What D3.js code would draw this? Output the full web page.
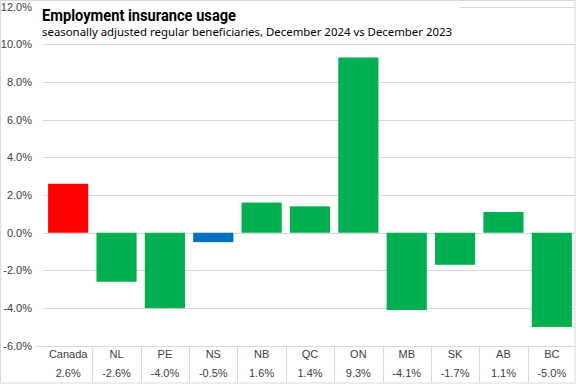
<!DOCTYPE html>
<html>
<head>
<meta charset="utf-8">
<script src="https://cdn.jsdelivr.net/npm/d3@7"></script>
<style>
  body { margin: 0; background: #fff; }
  svg { display: block; }
</style>
</head>
<body>
<svg id="chart" width="576" height="384"></svg>
<script>
const categories = ['Canada', 'NL', 'PE', 'NS', 'NB', 'QC', 'ON', 'MB', 'SK', 'AB', 'BC']
const values = [2.6, -2.6, -4.0, -0.5, 1.6, 1.4, 9.3, -4.1, -1.7, 1.1, -5.0]
const barColors = ['#ff0000', '#00b050', '#00b050', '#0070c0', '#00b050', '#00b050', '#00b050', '#00b050', '#00b050', '#00b050', '#00b050']
const yTicks = [-6, -4, -2, 0, 2, 4, 6, 8, 10, 12]

const svg = d3.select('#chart')
const W = 576
const H = 384

const x = d3.scaleBand().domain(categories).range([44, 576]).paddingInner(0.17).paddingOuter(0.085)
const y = d3.scaleLinear().domain([-6, 12]).range([345.8, 6.6])

// outer frame
svg.append('rect')
  .attr('x', 0.5).attr('y', 0.5)
  .attr('width', W - 1.5).attr('height', H - 1.5)
  .attr('fill', 'none')
  .attr('stroke', '#d9d9d9')

// grid
const grid = svg.append('g')
grid.selectAll('line')
  .data(yTicks)
  .enter()
  .append('line')
  .attr('x1', d => (d === -6 ? 36 : 43))
  .attr('x2', 575)
  .attr('y1', d => Math.round(y(d)) + 0.5)
  .attr('y2', d => Math.round(y(d)) + 0.5)
  .attr('stroke', '#d9d9d9')

// y tick labels
svg.append('g')
  .selectAll('text')
  .data(yTicks)
  .enter()
  .append('text')
  .attr('x', 32)
  .attr('y', d => y(d) + 4)
  .attr('text-anchor', 'end')
  .attr('font-family', 'Liberation Sans, Arial, sans-serif')
  .attr('font-size', '11px')
  .attr('fill', '#404040')
  .text(d => `${d.toFixed(1)}%`)

// bars
svg.append('g')
  .selectAll('rect')
  .data(categories)
  .enter()
  .append('rect')
  .attr('x', d => x(d))
  .attr('width', x.bandwidth())
  .attr('y', (d, i) => y(Math.max(0, values[i])))
  .attr('height', (d, i) => Math.abs(y(values[i]) - y(0)))
  .attr('fill', (d, i) => barColors[i])

// data table under the axis
const step = x.step()
const bandStart = d => x(d) - (step - x.bandwidth()) / 2
const table = svg.append('g')
table.selectAll('line')
  .data(categories.slice(1))
  .enter()
  .append('line')
  .attr('x1', d => Math.round(bandStart(d)) + 0.5)
  .attr('x2', d => Math.round(bandStart(d)) + 0.5)
  .attr('y1', y(-6))
  .attr('y2', H - 1)
  .attr('stroke', '#d9d9d9')

table.selectAll('text.cat')
  .data(categories)
  .enter()
  .append('text')
  .attr('class', 'cat')
  .attr('x', d => x(d) + x.bandwidth() / 2)
  .attr('y', 358)
  .attr('text-anchor', 'middle')
  .attr('font-family', 'Liberation Sans, Arial, sans-serif')
  .attr('font-size', '11px')
  .attr('fill', '#404040')
  .text(d => d)

table.selectAll('text.val')
  .data(categories)
  .enter()
  .append('text')
  .attr('class', 'val')
  .attr('x', d => x(d) + x.bandwidth() / 2)
  .attr('y', 377)
  .attr('text-anchor', 'middle')
  .attr('font-family', 'Liberation Sans, Arial, sans-serif')
  .attr('font-size', '11px')
  .attr('fill', '#404040')
  .text((d, i) => `${values[i].toFixed(1)}%`)

// title box
svg.append('rect')
  .attr('x', 38).attr('y', 2)
  .attr('width', 422).attr('height', 38)
  .attr('fill', '#fff')

svg.append('text')
  .attr('x', 42)
  .attr('y', 21)
  .attr('font-family', 'Roboto, sans-serif')
  .attr('font-weight', 'bold')
  .attr('font-size', '16px')
  .attr('fill', '#000')
  .attr('textLength', 194)
  .attr('lengthAdjust', 'spacingAndGlyphs')
  .text('Employment insurance usage')

svg.append('text')
  .attr('x', 42)
  .attr('y', 36)
  .attr('font-family', 'Noto Sans, sans-serif')
  .attr('font-size', '11.5px')
  .attr('fill', '#000')
  .attr('textLength', 410)
  .attr('lengthAdjust', 'spacingAndGlyphs')
  .text('seasonally adjusted regular beneficiaries, December  2024 vs December 2023')
</script>
</body>
</html>
